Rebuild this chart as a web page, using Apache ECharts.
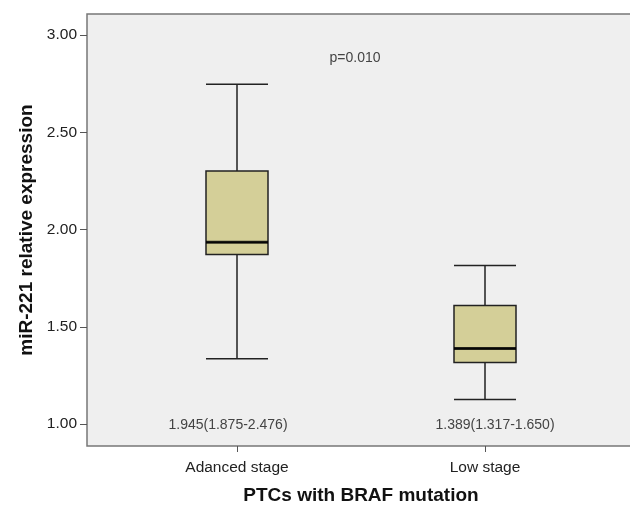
<!DOCTYPE html>
<html>
<head>
<meta charset="utf-8">
<script src="https://cdn.jsdelivr.net/npm/echarts@6/dist/echarts.min.js"></script>
<style>
html,body{margin:0;padding:0;background:#fff;}
#main{width:630px;height:505px;}
</style>
</head>
<body>
<div id="main"></div>
<script>
// data
var categories = ['Adanced stage', 'Low stage'];
// [min, Q1, median, Q3, max]
var boxValues = [
	[1.335, 1.871, 1.935, 2.301, 2.747],
	[1.126, 1.316, 1.388, 1.609, 1.815]
];
var medianLabels = ['1.945(1.875-2.476)', '1.389(1.317-1.650)'];
var yTicks = [1.0, 1.5, 2.0, 2.5, 3.0];
var pText = 'p=0.010';

var yMin = 0.887, yMax = 3.108;
var font = 'Liberation Sans, Arial, sans-serif';

var chart = echarts.init(document.getElementById('main'));

// median line drawn separately (thicker)
var medianData = boxValues.map(function (b, i) { return [i, b[2]]; });

chart.setOption({
	animation: false,
	backgroundColor: '#fff',
	grid: [
		{left: 87, top: 14, width: 560, height: 432, outerBoundsMode: 'none', containLabel: false,
			show: true, backgroundColor: '#efefef', borderColor: '#777', borderWidth: 1.5},
		{left: 113, top: 14, width: 496, height: 432, outerBoundsMode: 'none', containLabel: false}
	],
	xAxis: [
		{gridIndex: 0, type: 'value', min: 0, max: 1, show: false},
		{
			gridIndex: 1, type: 'category', data: categories,
			axisLine: {show: false},
			axisTick: {show: true, alignWithLabel: true, length: 6, lineStyle: {color: '#555'}},
			axisLabel: {color: '#222', fontSize: 15.5, fontFamily: font, margin: 14},
			name: 'PTCs with BRAF mutation', nameLocation: 'middle', nameGap: 40,
			nameTextStyle: {color: '#111', fontSize: 19, fontWeight: 'bold', fontFamily: font}
		}
	],
	yAxis: [
		{
			gridIndex: 0, type: 'value', min: yMin, max: yMax,
			axisLine: {show: false},
			axisTick: {show: true, length: 7, lineStyle: {color: '#555'}, customValues: yTicks},
			splitLine: {show: false},
			axisLabel: {
				color: '#222', fontSize: 15.5, fontFamily: font, margin: 10,
				customValues: yTicks,
				formatter: function (v) { return v.toFixed(2); }
			},
			name: 'miR-221 relative expression', nameLocation: 'middle', nameGap: 50,
			nameTextStyle: {color: '#111', fontSize: 19, fontWeight: 'bold', fontFamily: font}
		},
		{gridIndex: 1, type: 'value', min: yMin, max: yMax, show: false}
	],
	series: [
		{
			type: 'boxplot', xAxisIndex: 1, yAxisIndex: 1,
			data: boxValues,
			boxWidth: [62, 62],
			itemStyle: {color: '#d4cf98', borderColor: '#222', borderWidth: 1.5},
			silent: true
		},
		{
			type: 'scatter', xAxisIndex: 1, yAxisIndex: 1,
			data: medianData,
			symbol: 'rect', symbolSize: [62, 3],
			itemStyle: {color: '#000'},
			silent: true
		}
	]
});

// texts placed at data positions
function placeTexts() {
	var els = [];
	var offs = [-9, 10];
	var xs = [];
	medianLabels.forEach(function (t, i) {
		var p = chart.convertToPixel({xAxisIndex: 1, yAxisIndex: 1}, [i, 1.0]);
		xs.push(p[0]);
		els.push({type: 'text', x: p[0] + offs[i], y: p[1] + 1,
			style: {text: t, fill: '#444', font: '14px ' + font, align: 'center', verticalAlign: 'middle'}});
	});
	var py = chart.convertToPixel({yAxisIndex: 1}, 2.88);
	els.push({type: 'text', x: (xs[0] + xs[1]) / 2 - 6, y: py,
		style: {text: pText, fill: '#444', font: '14px ' + font, align: 'center', verticalAlign: 'middle'}});
	chart.setOption({graphic: els});
}
placeTexts();
</script>
</body>
</html>
